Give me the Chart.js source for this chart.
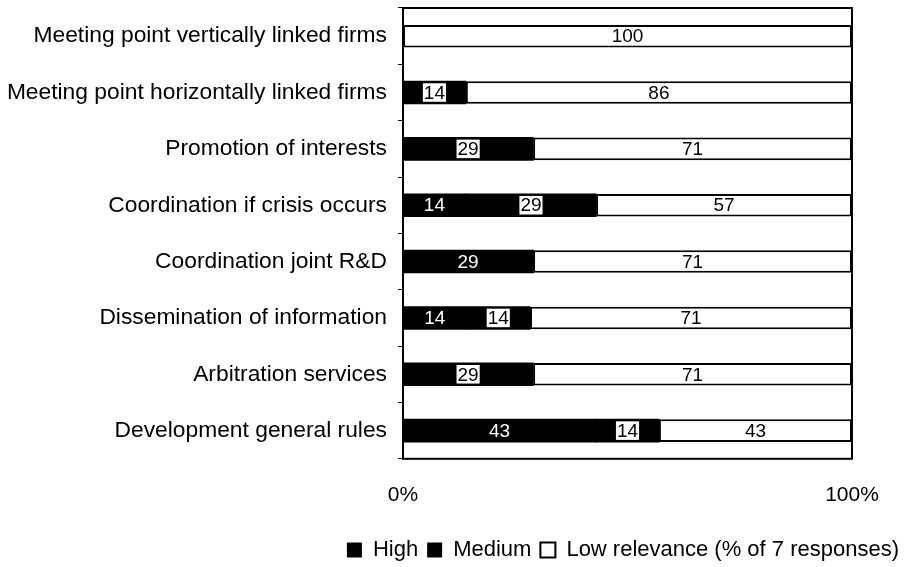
<!DOCTYPE html>
<html>
<head>
<meta charset="utf-8">
<script src="https://cdn.jsdelivr.net/npm/chart.js@4/dist/chart.umd.min.js"></script>
<style>
html,body{margin:0;padding:0;background:#fff;}
#wrap{width:908px;height:567px;position:relative;}
</style>
</head>
<body>
<div id="wrap"><canvas id="c" width="908" height="567"></canvas></div>
<script>
const categories = [
  "Meeting point vertically linked firms",
  "Meeting point horizontally linked firms",
  "Promotion of interests",
  "Coordination if crisis occurs",
  "Coordination joint R&D",
  "Dissemination of information",
  "Arbitration services",
  "Development general rules"
];
const highValues   = [0, 0, 0, 14, 29, 14, 0, 43];
const mediumValues = [0, 14, 29, 29, 0, 14, 29, 14];
const lowValues    = [100, 86, 71, 57, 71, 71, 71, 43];
const xTickLabels  = {0: "0%", 100: "100%"};
const seriesNames  = ["High", "Medium", "Low relevance (% of 7 responses)"];

// 100% stacked: normalise each row to 100 for plotting, keep raw values for labels
const rowSums = categories.map((_, i) => highValues[i] + mediumValues[i] + lowValues[i]);
const norm = arr => arr.map((v, i) => v / rowSums[i] * 100);
const rawSeries = [highValues, mediumValues, lowValues];

const FONT = "'Liberation Sans', Arial, sans-serif";

const labelPlugin = {
  id: 'segLabels',
  afterDatasetsDraw(chart) {
    const ctx = chart.ctx;
    ctx.save();
    ctx.font = "19px " + FONT;
    ctx.textAlign = 'center';
    ctx.textBaseline = 'middle';
    chart.data.datasets.forEach((ds, di) => {
      const meta = chart.getDatasetMeta(di);
      meta.data.forEach((el, i) => {
        const raw = rawSeries[di][i];
        if (!raw) return;
        const cx = (el.x + el.base) / 2;
        const cy = el.y;
        const txt = String(raw);
        if (di === 0) {
          ctx.fillStyle = '#fff';
          ctx.fillText(txt, cx, cy + 1);
        } else if (di === 1) {
          const w = ctx.measureText(txt).width + 2;
          const h = el.height - 4;
          ctx.fillStyle = '#fff';
          ctx.fillRect(cx - w / 2, cy - h / 2, w, h);
          ctx.fillStyle = '#000';
          ctx.fillText(txt, cx, cy + 1);
        } else {
          ctx.fillStyle = '#000';
          ctx.fillText(txt, cx, cy + 1);
        }
      });
    });
    ctx.restore();
  },
  afterDraw(chart) {
    const a = chart.chartArea;
    const ctx = chart.ctx;
    ctx.save();
    ctx.strokeStyle = '#000';
    ctx.lineWidth = 2;
    ctx.strokeRect(a.left, a.top, a.right - a.left, a.bottom - a.top);
    ctx.restore();
  }
};

function noPad(scale) { scale.paddingTop = 0; scale.paddingBottom = 0; }

new Chart(document.getElementById('c'), {
  type: 'bar',
  data: {
    labels: categories,
    datasets: [
      {label: seriesNames[0], data: norm(highValues), backgroundColor: '#000', borderColor: '#000', borderWidth: 0, inflateAmount: 0.5},
      {label: seriesNames[1], data: norm(mediumValues), backgroundColor: '#000', borderColor: '#000', borderWidth: 0, inflateAmount: 0.5},
      {label: seriesNames[2], data: norm(lowValues), backgroundColor: '#fff', borderColor: '#000', borderWidth: 2, borderSkipped: false}
    ]
  },
  options: {
    indexAxis: 'y',
    responsive: false,
    animation: false,
    devicePixelRatio: 1,
    categoryPercentage: 1,
    barPercentage: 0.4,
    layout: {padding: {top: 8, left: 0, right: 0, bottom: -4}},
    scales: {
      x: {
        stacked: true,
        min: 0, max: 100,
        grid: {display: false},
        border: {display: false},
        ticks: {
          stepSize: 100,
          color: '#000',
          font: {family: FONT, size: 21},
          padding: 16,
          maxRotation: 0,
          callback: v => xTickLabels[v] !== undefined ? xTickLabels[v] : ''
        },
        afterFit(scale) { scale.height += 6; }
      },
      y: {
        stacked: true,
        grid: {drawOnChartArea: false, drawTicks: true, tickLength: 5, color: '#000', lineWidth: 1},
        border: {display: false},
        ticks: {color: '#000', font: {family: FONT, size: 22.8}, padding: 11, autoSkip: false},
        afterFit(scale) { scale.width = 403; noPad(scale); }
      },
      yRight: {
        type: 'category',
        position: 'right',
        labels: categories,
        grid: {display: false},
        border: {display: false},
        ticks: {display: false},
        afterFit(scale) { scale.width = 56; noPad(scale); }
      }
    },
    plugins: {
      legend: {
        position: 'bottom',
        align: 'end',
        labels: {
          color: '#000',
          font: {family: FONT, size: 22},
          boxWidth: 15,
          boxHeight: 15,
          padding: 9
        }
      },
      tooltip: {enabled: false}
    }
  },
  plugins: [labelPlugin]
});
</script>
</body>
</html>
